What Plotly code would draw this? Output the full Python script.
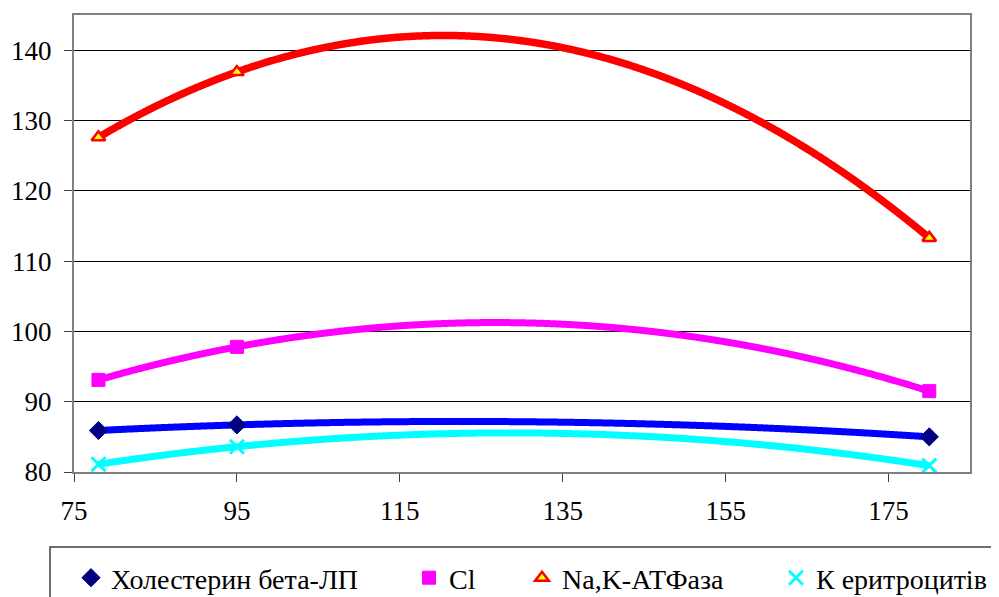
import numpy as np
import plotly.graph_objects as go

x_vals = [78, 95, 180]
cholesterol = [85.9, 86.7, 85.0]
chlorine = [93.1, 97.8, 91.5]
na_k_atpase = [127.6, 136.9, 113.3]
k_erythro = [81.1, 83.6, 80.9]

names = ["Холестерин бета-ЛП", "Cl", "Na,K-АТФаза", "К еритроцитів"]
y_ticks = [80, 90, 100, 110, 120, 130, 140]
x_ticks = [75, 95, 115, 135, 155, 175]

FONT = "Liberation Serif"

series = [
    (cholesterol, "#0000FF", dict(symbol="diamond", color="#000080", size=14, line=dict(color="#000080", width=1))),
    (chlorine, "#FF00FF", dict(symbol="square", color="#FF00FF", size=13, line=dict(color="#FF00FF", width=1))),
    (na_k_atpase, "#FF0000", dict(symbol="triangle-up", color="#FFFF00", size=12, line=dict(color="#FF0000", width=2.5))),
    (k_erythro, "#00FFFF", dict(symbol="x-thin", color="#00FFFF", size=14, line=dict(color="#00FFFF", width=3))),
]
line_widths = [7, 7, 7.5, 7]

fig = go.Figure()
legend_ids = ["legend", "legend2", "legend3", "legend4"]
# order-2 polynomial trendline computed from each series (as in the source chart)
x_fit = np.linspace(min(x_vals), max(x_vals), 500)
for (vals, lc, mk), lw in zip(series, line_widths):
    coef = np.polyfit(x_vals, vals, 2)
    fig.add_trace(go.Scatter(
        x=x_fit, y=np.polyval(coef, x_fit), mode="lines",
        line=dict(color=lc, width=lw, shape="spline"), showlegend=False, hoverinfo="skip",
    ))
for (vals, lc, mk), nm, lg in zip(series, names, legend_ids):
    fig.add_trace(go.Scatter(
        x=x_vals, y=vals, mode="markers", name=nm,
        marker=mk, showlegend=True, legend=lg,
    ))

# page body has an 8px margin; figure is sized so that the plot area lands
# at window pixels x 74..970, y 15..472
OFF = 8
W, H = 999 - OFF, 597 - OFF
ml, mr, mt, mb = 74 - OFF, 29, 15 - OFF, 125
pw = W - ml - mr
ph = H - mt - mb

def px2paper_x(px):
    return (px - OFF - ml) / pw

def px2paper_y(py):
    return (H - mb - (py - OFF)) / ph

legend_x_px = [71, 409, 522, 776]
legend_common = dict(
    orientation="h", xanchor="left", yanchor="middle",
    y=px2paper_y(578), font=dict(family=FONT, size=28, color="black"),
    bgcolor="rgba(0,0,0,0)", borderwidth=0, itemwidth=30,
)
layout_legends = {}
for lg, xp in zip(legend_ids, legend_x_px):
    layout_legends[lg] = dict(x=px2paper_x(xp), **legend_common)

fig.update_layout(
    width=W, height=H,
    margin=dict(l=ml, r=mr, t=mt, b=mb, autoexpand=False),
    paper_bgcolor="white", plot_bgcolor="white",
    font=dict(family=FONT, size=27, color="black"),
    xaxis=dict(
        range=[75, 185], tickvals=x_ticks, ticktext=[str(v) for v in x_ticks],
        showgrid=False, zeroline=False, automargin=False,
        showline=True, linecolor="#808080", linewidth=2, mirror=True,
        ticks="outside", ticklen=8, tickcolor="#404040", tickwidth=1,
        ticklabelstandoff=6,
        tickfont=dict(family=FONT, size=27, color="black"),
    ),
    yaxis=dict(
        range=[80, 145], tickvals=y_ticks, ticktext=[str(v) for v in y_ticks],
        showgrid=True, gridcolor="black", gridwidth=1, zeroline=False, automargin=False,
        showline=True, linecolor="#808080", linewidth=2, mirror=True,
        ticks="outside", ticklen=8, tickcolor="#404040", tickwidth=1,
        ticklabelstandoff=7,
        tickfont=dict(family=FONT, size=27, color="black"),
    ),
    shapes=[dict(
        type="rect", xref="paper", yref="paper",
        x0=px2paper_x(50), x1=px2paper_x(1010),
        y0=px2paper_y(610), y1=px2paper_y(547),
        line=dict(color="#404040", width=1.5), fillcolor="rgba(0,0,0,0)",
        layer="below",
    )],
    **layout_legends,
)

fig.write_html("out.html")
